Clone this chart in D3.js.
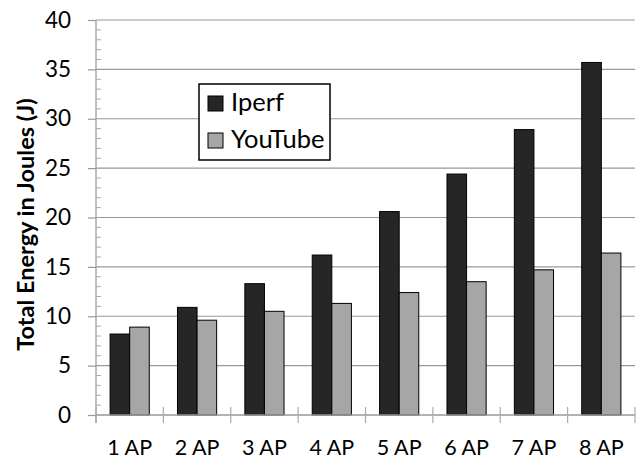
<!DOCTYPE html>
<html><head><meta charset="utf-8">
<script src="https://cdn.jsdelivr.net/npm/d3@7"></script>
<style>body{margin:0;background:#fff}svg{display:block}</style>
</head><body>
<script>
const categories = ["1 AP","2 AP","3 AP","4 AP","5 AP","6 AP","7 AP","8 AP"];
const seriesNames = ["Iperf","YouTube"];
const iperf = [8.2, 10.9, 13.3, 16.2, 20.6, 24.4, 28.9, 35.7];
const youtube = [8.9, 9.6, 10.5, 11.3, 12.4, 13.5, 14.7, 16.4];
const yTicks = [0,5,10,15,20,25,30,35,40];
const colors = ["#262626","#a6a6a6"];

const W=638,H=462;
const m={left:96,right:3,top:20,bottom:47};
const svg=d3.select("body").append("svg").attr("width",W).attr("height",H);
const font="Lato, 'Open Sans', sans-serif";

const x=d3.scaleBand().domain(categories).range([m.left,W-m.right]).paddingInner(0).paddingOuter(0);
const x1=d3.scaleBand().domain(seriesNames).range([0,x.bandwidth()]).paddingInner(0).paddingOuter(0.72);
const y=d3.scaleLinear().domain([0,40]).range([H-m.bottom,m.top]);

// gridlines
svg.append("g").selectAll("line").data(yTicks.filter(d=>d>0)).join("line")
  .attr("x1",m.left).attr("x2",W-m.right).attr("y1",d=>y(d)).attr("y2",d=>y(d))
  .attr("stroke","#999").attr("stroke-width",1.2);

// minor ticks
svg.append("g").selectAll("line").data(d3.range(0,41).filter(d=>d%5!==0)).join("line")
  .attr("x1",m.left).attr("x2",m.left+5).attr("y1",d=>y(d)).attr("y2",d=>y(d))
  .attr("stroke","#aaa").attr("stroke-width",1);

// y axis
const yAxis=svg.append("g").attr("transform",`translate(${m.left},0)`)
  .call(d3.axisLeft(y).tickValues(yTicks).tickSize(8).tickPadding(17));
yAxis.select(".domain").attr("stroke","#aaa").attr("stroke-width",1.5)
  .attr("d",`M0,${y(40)}V${y(0)+8}`);
yAxis.selectAll(".tick line").attr("stroke","#999").attr("stroke-width",1.2);
yAxis.selectAll(".tick text").attr("font-family",font).attr("font-size",22.5).attr("fill","#000");

// bars
const g=svg.append("g").selectAll("g").data(categories).join("g")
  .attr("transform",d=>`translate(${x(d)},0)`);
g.selectAll("rect").data((d,i)=>[{s:"Iperf",v:iperf[i],c:colors[0]},{s:"YouTube",v:youtube[i],c:colors[1]}]).join("rect")
  .attr("x",d=>x1(d.s)).attr("width",x1.bandwidth())
  .attr("y",d=>y(d.v)).attr("height",d=>y(0)-y(d.v))
  .attr("fill",d=>d.c).attr("stroke","#000").attr("stroke-width",1);

// x axis
const xAxis=svg.append("g").attr("transform",`translate(0,${y(0)})`)
  .call(d3.axisBottom(x).tickSize(0).tickPadding(25));
xAxis.select(".domain").attr("stroke","#999").attr("stroke-width",1.5).attr("d",`M${m.left},0H${W-m.right}`);
xAxis.selectAll(".tick text").attr("font-family",font).attr("font-size",21.5).attr("fill","#000");
// category separator ticks
svg.append("g").selectAll("line").data(categories.concat(["end"])).join("line")
  .attr("x1",(d,i)=>m.left+i*x.step()).attr("x2",(d,i)=>m.left+i*x.step())
  .attr("y1",y(0)-8).attr("y2",y(0)+8).attr("stroke","#aaa").attr("stroke-width",1.2);

// y title
svg.append("text").attr("transform",`translate(34,${(y(0)+y(40))/2+7}) rotate(-90)`)
  .attr("text-anchor","middle").attr("font-family",font).attr("font-weight","bold")
  .attr("font-size",23.5).text("Total Energy in Joules (J)");

// legend
const lg=svg.append("g").attr("transform","translate(199,84)");
lg.append("rect").attr("width",131).attr("height",76).attr("fill","#fff").attr("stroke","#000").attr("stroke-width",1.5);
const items=lg.selectAll("g").data(seriesNames).join("g").attr("transform",(d,i)=>`translate(9,${12+i*37})`);
items.append("rect").attr("width",15).attr("height",15).attr("fill",(d,i)=>colors[i]).attr("stroke","#000").attr("stroke-width",1);
items.append("text").attr("x",23).attr("y",15).attr("font-family",font).attr("font-size",25.5).text(d=>d);
</script>
</body></html>
